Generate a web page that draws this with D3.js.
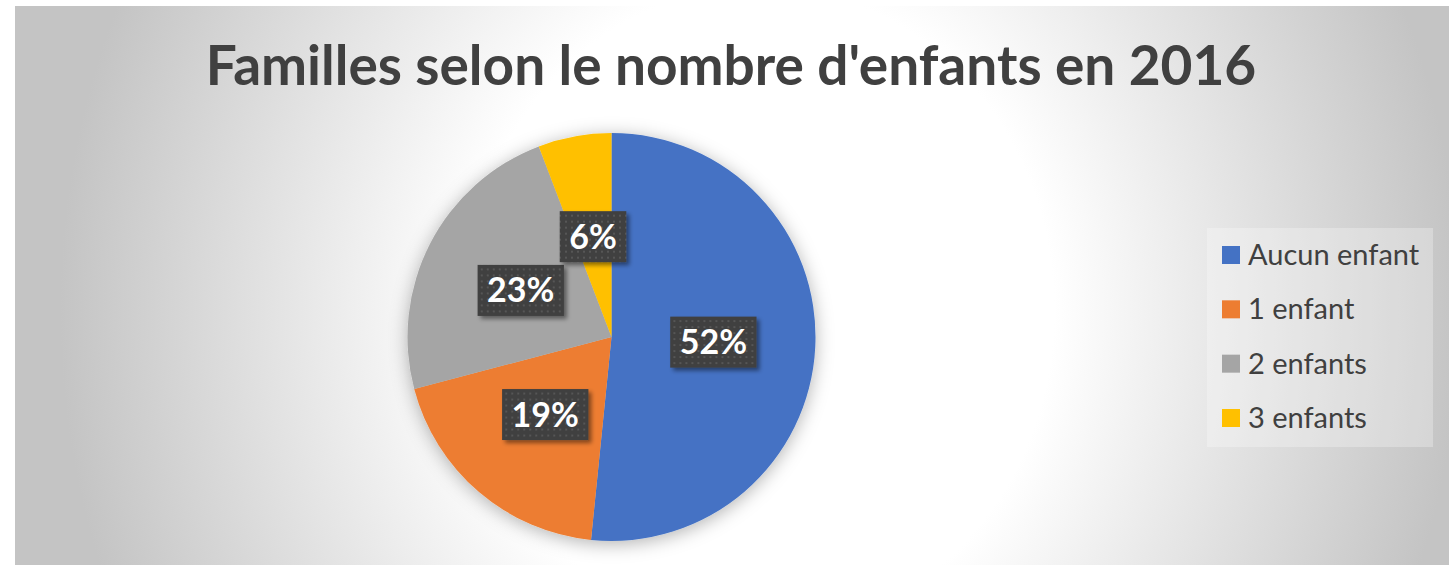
<!DOCTYPE html>
<html>
<head>
<meta charset="utf-8">
<script src="https://cdn.jsdelivr.net/npm/d3@7"></script>
<style>
    html, body { margin: 0; padding: 0; background: #fff; }
    svg { display: block; font-family: Lato, 'Open Sans', sans-serif; }
</style>
</head>
<body>
<svg id="chart"></svg>
<script>
// Chart data.
const categories = ['Aucun enfant', '1 enfant', '2 enfants', '3 enfants'];
const shares = [51.6, 19.3, 23.3, 5.8];
const colors = ['#4472c4', '#ed7d31', '#a5a5a5', '#ffc000'];
const title = "Familles selon le nombre d'enfants en 2016";

const width = 1453;
const height = 565;
const radius = 204;
const cx = 611.5;
const cy = 337;

const svg = d3.select('#chart').attr('width', width).attr('height', height);
const defs = svg.append('defs');

// Background gradient (white centre, grey edges).
const bg = defs.append('radialGradient')
    .attr('id', 'bg')
    .attr('gradientUnits', 'userSpaceOnUse')
    .attr('cx', 760).attr('cy', 310).attr('r', 700)
    .attr('gradientTransform', 'translate(760 310) scale(1 1.1) translate(-760 -310)');
bg.append('stop').attr('offset', 0).attr('stop-color', '#ffffff');
bg.append('stop').attr('offset', 0.42).attr('stop-color', '#ffffff');
bg.append('stop').attr('offset', 1).attr('stop-color', '#c4c4c4');

// Dotted pattern used by the data labels.
const dots = defs.append('pattern')
    .attr('id', 'dots')
    .attr('patternUnits', 'userSpaceOnUse')
    .attr('width', 6).attr('height', 6);
dots.append('rect').attr('width', 6).attr('height', 6).attr('fill', '#3f3f3f');
dots.append('rect').attr('x', 2).attr('y', 2).attr('width', 2).attr('height', 2).attr('fill', '#565656');

// Shadows.
defs.append('filter').attr('id', 'pieShadow')
    .attr('x', '-20%').attr('y', '-20%').attr('width', '140%').attr('height', '140%')
    .append('feDropShadow')
    .attr('dx', 0).attr('dy', 3).attr('stdDeviation', 9)
    .attr('flood-color', '#000').attr('flood-opacity', 0.3);

defs.append('filter').attr('id', 'labelShadow')
    .attr('x', '-20%').attr('y', '-20%').attr('width', '150%').attr('height', '150%')
    .append('feDropShadow')
    .attr('dx', 3).attr('dy', 3).attr('stdDeviation', 2)
    .attr('flood-color', '#000').attr('flood-opacity', 0.45);

// Chart area.
svg.append('rect')
    .attr('x', 15).attr('y', 6)
    .attr('width', 1434).attr('height', height)
    .attr('fill', 'url(#bg)');

// Title.
svg.append('text')
    .attr('x', 731)
    .attr('y', 85)
    .attr('text-anchor', 'middle')
    .attr('font-size', 55)
    .attr('font-weight', 700)
    .attr('fill', '#404040')
    .text(title);

// Pie.
const pie = d3.pie().sort(null).value(d => d);
const arc = d3.arc().innerRadius(0).outerRadius(radius);
const arcs = pie(shares);

const g = svg.append('g').attr('transform', `translate(${cx}, ${cy})`);

g.append('g')
    .attr('filter', 'url(#pieShadow)')
    .selectAll('path')
    .data(arcs)
    .enter()
    .append('path')
    .attr('d', arc)
    .attr('fill', (d, i) => colors[i]);

// Data labels.
const fmt = v => d3.format('.0f')(v) + '%';
const labels = g.selectAll('.label')
    .data(arcs)
    .enter()
    .append('g')
    .attr('class', 'label')
    .attr('transform', d => `translate(${arc.centroid(d)})`);

labels.each(function (d) {
    const lab = d3.select(this);
    const box = lab.append('rect').attr('fill', 'url(#dots)').attr('filter', 'url(#labelShadow)');
    const txt = lab.append('text')
        .attr('text-anchor', 'middle')
        .attr('y', 12)
        .attr('font-size', 34)
        .attr('font-weight', 700)
        .attr('fill', '#ffffff')
        .text(fmt(d.data));
    const w = txt.node().getComputedTextLength() + 19;
    box.attr('x', -w / 2).attr('y', -25.5).attr('width', w).attr('height', 51);
});

// Legend.
const legend = svg.append('g');
legend.append('rect')
    .attr('x', 1207).attr('y', 228)
    .attr('width', 226).attr('height', 219)
    .attr('fill', '#ffffff').attr('fill-opacity', 0.28);

const rowY = d3.scalePoint().domain(categories).range([255, 418]);
const item = legend.selectAll('.item')
    .data(categories)
    .enter()
    .append('g')
    .attr('transform', c => `translate(1222, ${rowY(c)})`);

item.append('rect')
    .attr('x', 0).attr('y', -9)
    .attr('width', 18).attr('height', 18)
    .attr('fill', (c, i) => colors[i]);

item.append('text')
    .attr('x', 26).attr('y', 10)
    .attr('font-size', 29)
    .attr('fill', '#404040')
    .text(c => c);
</script>
</body>
</html>
